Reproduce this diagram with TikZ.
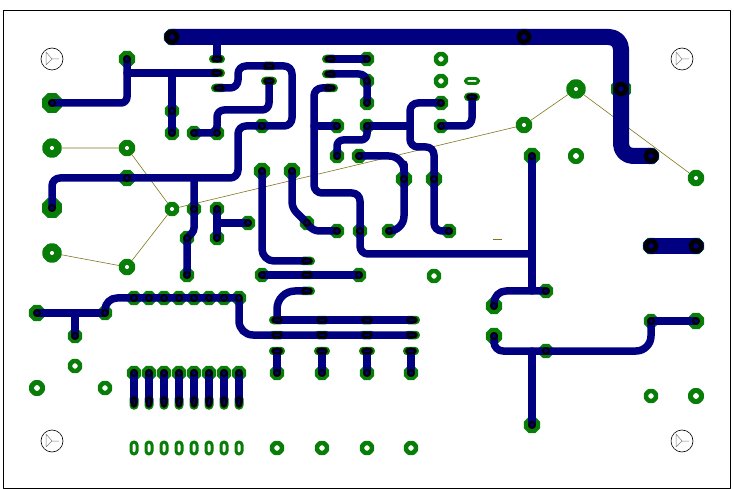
\documentclass[tikz,border=0pt]{standalone}
\usepackage{tikz}
\usetikzlibrary{shapes.geometric}
\definecolor{padgreen}{RGB}{8,125,8}
\definecolor{tracknavy}{RGB}{0,0,128}
\definecolor{ratsolive}{RGB}{128,118,30}

\begin{document}
\begin{tikzpicture}[x=1pt,y=-1pt,line join=round]

  \tikzstyle{pad}=[regular polygon,regular polygon sides=8,fill=padgreen,inner sep=0pt,minimum size=15.5pt]
  \tikzstyle{midpad}=[pad,minimum size=17.5pt]
  \tikzstyle{bigpad}=[pad,minimum size=21.5pt]
  \tikzstyle{ovalpad}=[rectangle,rounded corners=4.2pt,fill=padgreen,inner sep=0pt,minimum width=16pt,minimum height=8.5pt]
  \tikzstyle{tallpad}=[rectangle,rounded corners=4.4pt,fill=padgreen,inner sep=0pt,minimum width=9pt,minimum height=15.5pt]
  \tikzstyle{ratspad}=[regular polygon,regular polygon sides=8,draw=padgreen,fill=white,inner sep=0pt,line width=6pt,minimum size=11pt]
  \tikzstyle{bigratspad}=[ratspad,line width=7.5pt,minimum size=12.5pt]
  \tikzstyle{freepad}=[ratspad,line width=4.5pt,minimum size=10.5pt]
  \tikzstyle{freeoval}=[rectangle,rounded corners=3pt,draw=padgreen,fill=white,inner sep=0pt,line width=3pt,minimum width=13pt,minimum height=5pt]
  \tikzstyle{freetall}=[rectangle,rounded corners=3pt,draw=padgreen,fill=white,inner sep=0pt,line width=3pt,minimum width=6pt,minimum height=12pt]
  \tikzstyle{drill}=[circle,draw=black,fill=tracknavy,inner sep=0pt,line width=2pt,minimum size=6pt]
  \tikzstyle{bigdrill}=[circle,draw=black,fill=tracknavy,inner sep=0pt,line width=4.5pt,minimum size=10.5pt]
  \tikzstyle{widedrill}=[rectangle,rounded corners=2pt,draw=black,fill=tracknavy,inner sep=0pt,line width=2.5pt,minimum width=9pt,minimum height=4pt]
  \tikzstyle{longdrill}=[rectangle,rounded corners=2pt,draw=black,fill=tracknavy,inner sep=0pt,line width=2.5pt,minimum width=4pt,minimum height=9pt]
  \tikzstyle{mount}=[circle,draw=black,fill=white,inner sep=0pt,line width=0.6pt,minimum size=22pt]
  \tikzstyle{track}=[draw=tracknavy,line width=7.5pt,line cap=round]
  \tikzstyle{power}=[draw=tracknavy,line width=16pt,line cap=round]
  \tikzstyle{rats}=[draw=ratsolive,line width=0.6pt]

  \useasboundingbox (0,0) rectangle (734,489);
  \draw[line width=1pt] (3,11) rectangle (730,488);

  \node[mount] (m1) at (52,59) {};
  \node[mount] (m2) at (682,59) {};
  \node[mount] (m3) at (52,441) {};
  \node[mount] (m4) at (682,441) {};
  \foreach \m in {m1,m2,m3,m4}
    \draw[gray,line width=0.5pt] ([shift={(7,0)}]\m.center) -- (\m.center) -- ([shift={(-6,-7)}]\m.center) -- ([shift={(-6,6)}]\m.center) -- (\m.center);

  \node[midpad] (t1) at (172,37) {};
  \node[midpad] (t2) at (524,37) {};
  \node[bigpad] (t3) at (621,89) {};
  \node[midpad] (t4) at (651,156) {};
  \node[midpad] (t5) at (651,246) {};
  \node[midpad] (t6) at (696,246) {};

  \node[midpad] (p1) at (127,59) {};
  \node[bigpad] (p2) at (52,103) {};
  \node[ovalpad] (p3) at (217,59) {};
  \node[ovalpad] (p4) at (217,73) {};
  \node[ovalpad] (p5) at (219,88) {};
  \node[pad] (p6) at (172,111) {};
  \node[pad] (p7) at (172,133) {};
  \node[pad] (p8) at (194,133) {};
  \node[pad] (p9) at (217,133) {};
  \node[midpad] (p10) at (127,178) {};
  \node[bigpad] (p11) at (52,208) {};
  \node[ovalpad] (p12) at (269,66) {};
  \node[ovalpad] (p13) at (269,81) {};
  \node[pad] (p14) at (262,126) {};
  \node[pad] (p15) at (194,209) {};
  \node[pad] (p16) at (217,209) {};
  \node[pad] (p17) at (187,238) {};
  \node[pad] (p18) at (217,238) {};
  \node[pad] (p19) at (248,223) {};
  \node[pad] (p20) at (187,275) {};
  \node[ovalpad] (p21) at (330,59) {};
  \node[pad] (p22) at (367,59) {};
  \node[ovalpad] (p23) at (330,74) {};
  \node[pad] (p24) at (367,81) {};
  \node[pad] (p25) at (367,103) {};
  \node[ovalpad] (p26) at (330,88) {};
  \node[pad] (p27) at (337,126) {};
  \node[pad] (p28) at (367,126) {};
  \node[pad] (p29) at (337,156) {};
  \node[pad] (p30) at (359,156) {};
  \node[midpad] (p31) at (404,179) {};
  \node[midpad] (p32) at (434,179) {};
  \node[pad] (p33) at (441,103) {};
  \node[pad] (p34) at (441,126) {};
  \node[ovalpad] (p35) at (472,97) {};
  \node[midpad] (p36) at (262,171) {};
  \node[midpad] (p37) at (292,171) {};
  \node[pad] (p38) at (307,223) {};
  \node[pad] (p39) at (337,231) {};
  \node[pad] (p40) at (360,231) {};
  \node[pad] (p41) at (389,231) {};
  \node[pad] (p42) at (449,231) {};
  \node[ovalpad] (p43) at (307,261) {};
  \node[pad] (p44) at (262,275) {};
  \node[ovalpad] (p45) at (307,275) {};
  \node[pad] (p46) at (359,275) {};
  \node[ovalpad] (p47) at (307,291) {};
  \node[midpad] (p48) at (37,313) {};
  \node[pad] (p49) at (75,336) {};
  \node[pad] (p50) at (105,313) {};
  \node[midpad] (p51) at (532,156) {};
  \node[pad] (p52) at (546,291) {};
  \node[midpad] (p53) at (494,306) {};
  \node[midpad] (p54) at (494,336) {};
  \node[pad] (p55) at (546,351) {};
  \node[midpad] (p56) at (532,425) {};
  \node[pad] (p57) at (651,321) {};
  \node[midpad] (p58) at (696,321) {};

  \node[ovalpad] (u1) at (277,320) {};
  \node[ovalpad] (u2) at (322,320) {};
  \node[ovalpad] (u3) at (367,320) {};
  \node[ovalpad] (u4) at (412,320) {};
  \node[ovalpad] (w1) at (277,335) {};
  \node[ovalpad] (w2) at (322,335) {};
  \node[ovalpad] (w3) at (367,335) {};
  \node[ovalpad] (w4) at (412,335) {};
  \node[ovalpad] (x1) at (277,351) {};
  \node[ovalpad] (x2) at (322,351) {};
  \node[ovalpad] (x3) at (367,351) {};
  \node[ovalpad] (x4) at (411,351) {};
  \node[pad] (z1) at (277,373) {};
  \node[pad] (z2) at (322,373) {};
  \node[pad] (z3) at (367,373) {};
  \node[pad] (z4) at (411,373) {};
  \node[freepad] (e1) at (277,448) {};
  \node[freepad] (e2) at (322,448) {};
  \node[freepad] (e3) at (367,448) {};
  \node[freepad] (e4) at (411,448) {};

  \foreach \n/\px in {1/134,2/149,3/164,4/179,5/194,6/209,7/224,8/239} {
    \node[pad] (a\n) at (\px,298) {};
    \node[pad] (b\n) at (\px,373) {};
    \node[tallpad] (c\n) at (\px,402) {};
    \node[freetall] (d\n) at (\px,448) {};
  }

  \node[freepad] (f1) at (441,59) {};
  \node[freepad] (f2) at (441,81) {};
  \node[freeoval] (f3) at (472,81) {};
  \node[freepad] (f4) at (434,276) {};
  \node[freepad] (f5) at (75,366) {};
  \node[freepad,line width=5pt,minimum size=11.5pt] (f6) at (37,388) {};
  \node[freepad] (f7) at (105,388) {};
  \node[freepad,line width=5pt,minimum size=11.5pt] (f8) at (576,156) {};
  \node[freepad] (f9) at (651,396) {};
  \node[freepad,line width=5pt,minimum size=11.5pt] (f10) at (696,396) {};

  \node[bigratspad] (r1) at (52,148) {};
  \node[ratspad] (r2) at (127,148) {};
  \node[ratspad,line width=5pt,minimum size=10pt] (r3) at (172,209) {};
  \node[ratspad] (r4) at (127,267) {};
  \node[bigratspad] (r5) at (52,253) {};
  \node[ratspad] (r6) at (524,125) {};
  \node[bigratspad] (r7) at (576,89) {};
  \node[ratspad] (r8) at (696,178) {};

  \coordinate (o1) at (493,239);
  \coordinate (o2) at (502,239);
  \coordinate (j1) at (314,126);
  \coordinate (j2) at (532,254);
  \coordinate (j3) at (410,126);

  \draw[rats] (r1) -- (r2) -- (r3) -- (r6) -- (r7) -- (r8);
  \draw[rats] (r3) -- (r4) -- (r5);
  \draw[rats] (o1) -- (o2);

  \draw[power,rounded corners=12pt] (t1.center) -- (t2.center) -| (t3.center) |- (t4.center);
  \draw[power] (t5.center) -- (t6.center);

  \draw[track,rounded corners=6pt] (p2.center) -| (p1.center);
  \draw[track] (p1.center |- p4.center) -- (p4.center);
  \draw[track] (p6.center |- p4.center) -- (p6.center) -- (p7.center);
  \draw[track] (p3.center |- t1.center) -- (p3.center);
  \draw[track,rounded corners=8pt] (p11.center) |- (p10.center) -- (238,178) |- (p14.center) -| (292,66) -- (p12.center) -| (238,88) -- (p5.center);
  \draw[track,rounded corners=7pt] (p13.center) -- (269,110) -| (p9.center) -- (p8.center);
  \draw[track,rounded corners=3pt] (p15.center |- p10.center) -- (p15.center) -- (194,231) -- (p17.center) -- (p20.center);
  \draw[track] (p16.center) -- (p18.center);
  \draw[track] (p16.center |- p19.center) -- (p19.center);
  \draw[track] (p21.center) -- (p22.center);
  \draw[track,rounded corners=8pt] (p23.center) -| (p25.center);
  \draw[track,rounded corners=8pt] (p26.center) -| (314,193) -| (p40.center) |- (j2);
  \draw[track] (j1) -- (p27.center);
  \draw[track] (p28.center) -- (j3);
  \draw[track,rounded corners=6pt] (p29.center) -- (337,140) -- (367,140) -- (p28.center);
  \draw[track,rounded corners=15pt] (p30.center) -| (p31.center) |- (p41.center);
  \draw[track,rounded corners=8pt] (p33.center) -| (410,147) -| (p32.center) |- (p42.center);
  \draw[track,rounded corners=8pt] (p34.center) -| (p35.center);
  \draw[track,rounded corners=12pt] (p36.center) |- (p43.center);
  \draw[track,rounded corners=6pt] (p37.center) -- (292,208) -- (p38.center) -- (313,231) -- (p39.center);
  \draw[track] (p44.center) -- (p46.center);
  \draw[track,rounded corners=18pt] (p47.center) -| (u1.center);
  \draw[track] (u1.center) -- (u4.center);
  \draw[track,rounded corners=14pt] (a8.center) |- (w4.center);
  \draw[track] (x1.center) -- (z1.center);
  \draw[track] (x2.center) -- (z2.center);
  \draw[track] (x3.center) -- (z3.center);
  \draw[track] (x4.center) -- (z4.center);
  \foreach \n in {1,...,8}
    \draw[track] (b\n.center) -- (c\n.center);
  \draw[track] (p48.center) -- (p50.center);
  \draw[track] (p49.center |- p48.center) -- (p49.center);
  \draw[track,rounded corners=12pt] (p50.center) |- (a8.center);
  \draw[track] (p51.center) -- (p51.center |- p52.center);
  \draw[track,rounded corners=12pt] (p52.center) -| (p53.center);
  \draw[track,rounded corners=9pt] (p54.center) |- (p55.center);
  \draw[track,rounded corners=15pt] (p55.center) -| (p57.center);
  \draw[track] (p57.center) -- (p58.center);
  \draw[track] (p56.center) -- (p56.center |- p55.center);

  \foreach \h in {t1,t2,t3,t4,t5,t6}
    \node[bigdrill] (d\h) at (\h) {};
  \foreach \h in {p1,p2,p6,p7,p8,p9,p10,p11,p14,p15,p16,p17,p18,p19,p20,p22,p24,p25,p27,p28,p29,p30,p31,p32,p33,p34,p36,p37,p38,p39,p40,p41,p42,p44,p46,p48,p49,p50,p51,p52,p53,p54,p55,p56,p57,p58,z1,z2,z3,z4,a1,a2,a3,a4,a5,a6,a7,a8,b1,b2,b3,b4,b5,b6,b7,b8}
    \node[drill] (d\h) at (\h) {};
  \foreach \h in {p3,p4,p5,p12,p13,p21,p23,p26,p35,p43,p45,p47,u1,u2,u3,u4,w1,w2,w3,w4,x1,x2,x3,x4}
    \node[widedrill] (d\h) at (\h) {};
  \foreach \h in {c1,c2,c3,c4,c5,c6,c7,c8}
    \node[longdrill] (d\h) at (\h) {};

\end{tikzpicture}
\end{document}
